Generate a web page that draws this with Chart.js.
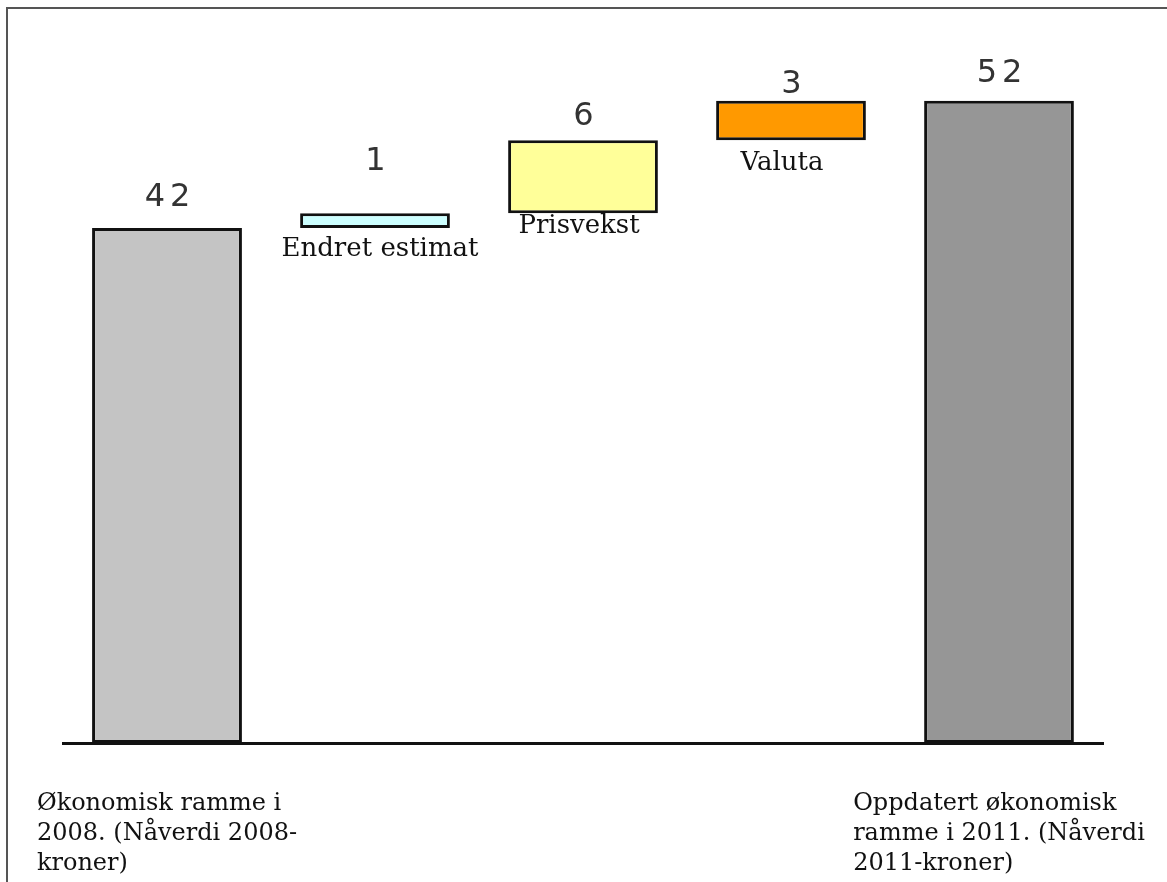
<!DOCTYPE html>
<html lang="no">
<head>
    <meta charset="UTF-8">
    <title>Økonomisk ramme</title>
    <script src="https://cdn.jsdelivr.net/npm/chart.js"></script>
    <style>
        body { margin: 0; padding: 0; background: #fff; }
        #wrap { width: 1167px; height: 882px; position: relative; }
    </style>
</head>
<body>
    <div id="wrap"><canvas id="myChart"></canvas></div>

    <script>
        // kategorier (linjer for hver etikett)
        var categories = [
            ['Økonomisk ramme i', '2008. (Nåverdi 2008-', 'kroner)'],
            ['Endret estimat'],
            ['Prisvekst'],
            ['Valuta'],
            ['Oppdatert økonomisk', 'ramme i 2011. (Nåverdi', '2011-kroner)']
        ];
        // start og slutt for hver stolpe (fossefall)
        var barStart = [0, 41.7, 42.9, 48.8, 0];
        var barEnd = [41.7, 42.9, 48.8, 52, 52];
        var valueLabels = ['42', '1', '6', '3', '52'];

        // stil
        var barColors = ['#c4c4c4', '#ccffff', '#ffff99', '#ff9900', '#969696'];
        var valueGap = [22, 43, 15, 8, 19];
        var nameGap = [0, 8, 0, 10, 0];
        var nameShift = [0, 5, -4, -9, 0];

        var ctx = document.getElementById('myChart').getContext('2d');

        var etiketter = {
            id: 'etiketter',
            beforeDraw: function (chart) {
                var c = chart.ctx;
                c.save();
                c.fillStyle = '#fff';
                c.fillRect(0, 0, chart.width, chart.height);
                // ramme
                c.strokeStyle = '#555';
                c.lineWidth = 2;
                c.beginPath();
                c.moveTo(7, chart.height);
                c.lineTo(7, 8);
                c.lineTo(chart.width, 8);
                c.stroke();
                c.restore();
            },
            afterDatasetsDraw: function (chart) {
                var c = chart.ctx;
                var x = chart.scales.x, y = chart.scales.y;
                c.save();
                for (var i = 0; i < categories.length; i++) {
                    var cx = x.getPixelForValue(i);
                    var top = y.getPixelForValue(barEnd[i]);
                    var bottom = y.getPixelForValue(barStart[i]);

                    // verdier over stolpene
                    c.fillStyle = '#333';
                    c.font = '32px "DejaVu Sans"';
                    c.letterSpacing = '5px';
                    c.textAlign = 'center';
                    c.textBaseline = 'alphabetic';
                    c.fillText(valueLabels[i], cx + 3, top - valueGap[i]);
                    c.letterSpacing = '0px';

                    var lines = categories[i];
                    c.fillStyle = '#111';
                    if (barStart[i] > 0) {
                        // navn under flytende stolper
                        c.font = '26px "DejaVu Serif"';
                        c.textAlign = 'center';
                        c.textBaseline = 'top';
                        c.fillText(lines[0], cx + nameShift[i], bottom + nameGap[i]);
                    } else {
                        // venstrejustert blokk under aksen
                        c.font = '24px "DejaVu Serif"';
                        c.textBaseline = 'alphabetic';
                        var w = 0;
                        lines.forEach(function (l) { w = Math.max(w, c.measureText(l).width); });
                        c.textAlign = 'left';
                        lines.forEach(function (l, k) {
                            c.fillText(l, cx - w / 2 + nameShift[i], 810 + k * 30);
                        });
                    }
                }
                c.restore();
            }
        };

        var myChart = new Chart(ctx, {
            type: 'bar',
            data: {
                labels: categories,
                datasets: [{
                    data: barStart.map(function (s, i) { return [s, barEnd[i]]; }),
                    backgroundColor: barColors,
                    borderColor: '#111',
                    borderWidth: 3,
                    borderSkipped: false,
                    barPercentage: 0.72,
                    categoryPercentage: 1
                }]
            },
            options: {
                responsive: true,
                maintainAspectRatio: false,
                animation: false,
                layout: { padding: { left: 63, right: 64, top: 39, bottom: 139 } },
                plugins: {
                    legend: { display: false },
                    tooltip: { enabled: false }
                },
                scales: {
                    x: {
                        grid: { display: false, drawTicks: false },
                        ticks: { display: false },
                        border: { display: true, color: '#111', width: 3 },
                        afterFit: function (s) { s.height = 0; }
                    },
                    y: {
                        display: false,
                        min: 0,
                        max: 57
                    }
                }
            },
            plugins: [etiketter]
        });
    </script>
</body>
</html>
